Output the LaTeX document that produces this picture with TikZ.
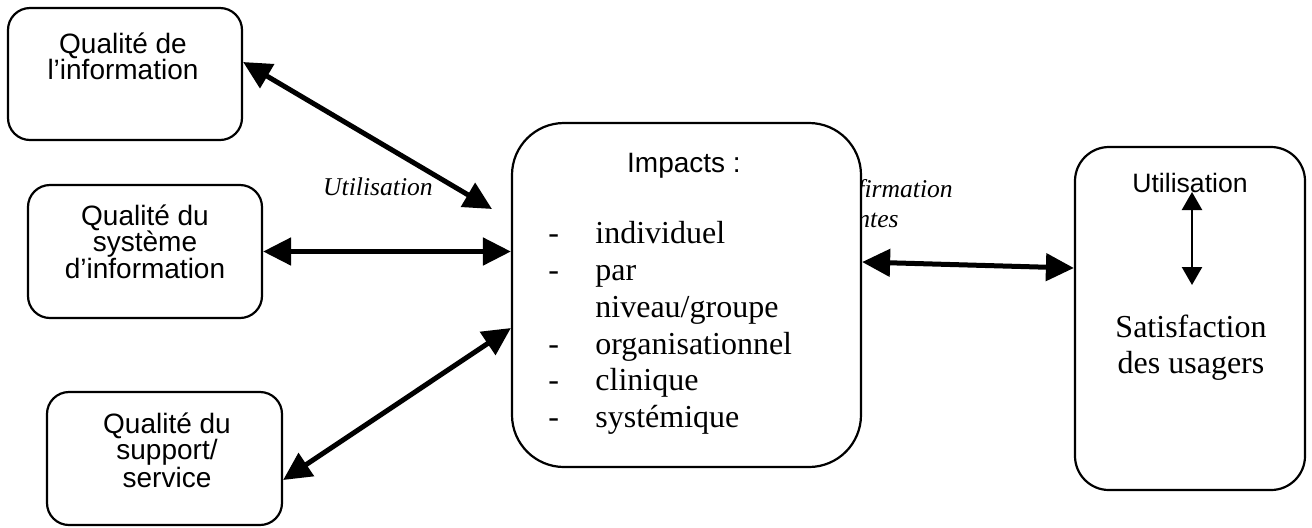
\documentclass[tikz,border=0pt]{standalone}
\usepackage{fontspec}
\setmainfont{Liberation Serif}
\newfontfamily\boxfont{Liberation Sans}
\usetikzlibrary{arrows.meta,calc}

\begin{document}
\begin{tikzpicture}[x=0.5pt,y=-0.5pt,
  qbox/.style={draw, line width=1.1pt, fill=white, inner sep=0pt},
  sanslbl/.style={font=\boxfont\fontsize{14}{16}\selectfont, inner sep=0pt, anchor=base},
  seriflbl/.style={font=\fontsize{16}{18}\selectfont, inner sep=0pt, anchor=base},
  listlbl/.style={seriflbl, anchor=base west},
  itlbl/.style={font=\itshape\fontsize{12.8}{15}\selectfont, inner sep=0pt, anchor=base},
  link/.style={line width=2.5pt, {Triangle[length=14pt,width=13.5pt]}-{Triangle[length=14pt,width=13.5pt]}},
  small link/.style={line width=1.2pt, {Triangle[length=9pt,width=10pt]}-{Triangle[length=9pt,width=10pt]}}
]
\useasboundingbox (0,0) rectangle (1312,527);

% edge label partly hidden behind the impacts box
\node[itlbl, anchor=base west] (cf1) at (857,197) {firmation};
\node[itlbl, anchor=base west] (cf2) at (857,227) {ntes};

% quality boxes
\node[qbox, rounded corners=11pt, minimum width=117pt, minimum height=66pt] (q1) at (125,74) {};
\node[qbox, rounded corners=11pt, minimum width=117pt, minimum height=66.5pt] (q2) at (145,251.5) {};
\node[qbox, rounded corners=11pt, minimum width=117.5pt, minimum height=66.5pt] (q3) at (164.5,458.5) {};

\node[sanslbl] (q1a) at (123,53) {Qualité de};
\node[sanslbl] (q1b) at (123,79) {l’information};

\node[sanslbl] (q2a) at (145,225) {Qualité du};
\node[sanslbl] (q2b) at (145,251) {système};
\node[sanslbl] (q2c) at (145,278) {d’information};

\node[sanslbl] (q3a) at (167,433) {Qualité du};
\node[sanslbl] (q3b) at (167,459) {support/};
\node[sanslbl] (q3c) at (167,487) {service};

% impacts box
\node[qbox, rounded corners=26pt, minimum width=174.5pt, minimum height=172pt] (imp) at (686.5,295) {};
\node[sanslbl] (impt) at (684,172) {Impacts :};

\node[listlbl] (d1) at (548,243) {-};
\node[listlbl] (l1) at (595,243) {individuel};
\node[listlbl] (d2) at (548,280) {-};
\node[listlbl] (l2) at (595,280) {par};
\node[listlbl] (l3) at (595,317) {niveau/groupe};
\node[listlbl] (d4) at (548,354) {-};
\node[listlbl] (l4) at (595,354) {organisationnel};
\node[listlbl] (d5) at (548,390) {-};
\node[listlbl] (l5) at (595,390) {clinique};
\node[listlbl] (d6) at (548,427) {-};
\node[listlbl] (l6) at (595,427) {systémique};

% satisfaction box
\node[qbox, rounded corners=17pt, minimum width=115pt, minimum height=171.5pt] (sat) at (1190,318.5) {};
\node[sanslbl, font=\boxfont\fontsize{13.3}{15}\selectfont] (util) at (1190,192) {Utilisation};
\node[seriflbl] (s1) at (1191,337) {Satisfaction};
\node[seriflbl] (s2) at (1191,373) {des usagers};

% edge label
\node[itlbl] (ul) at (378,195) {Utilisation};

% connectors
\coordinate (u1) at (492,209);
\draw[link] ([yshift=6pt]q1.east) -- (u1);
\draw[link] (q2.east) -- (q2.east -| imp.west);
\draw[link] ([yshift=-10.75pt]q3.east) -- ([yshift=-16.5pt]imp.west);
\draw[link] ([yshift=16.5pt]imp.east) -- ([yshift=25.25pt]sat.west);

\coordinate (v2) at (1192,285);
\draw[small link] (util.base -| v2) -- (v2);
\end{tikzpicture}
\end{document}
